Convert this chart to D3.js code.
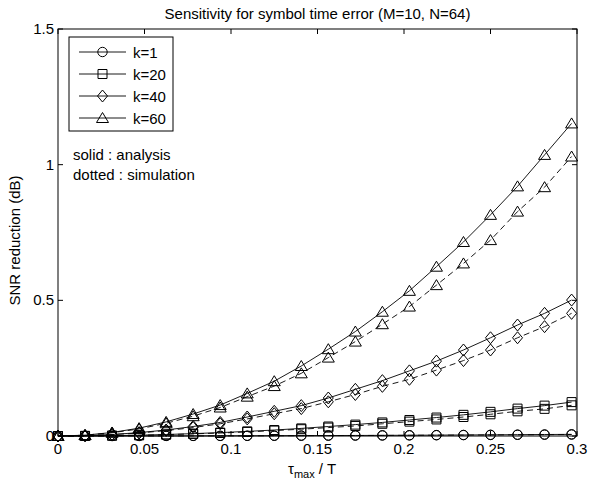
<!DOCTYPE html>
<html>
<head>
<meta charset="utf-8">
<script src="https://cdn.jsdelivr.net/npm/d3@7"></script>
<style>
  body { margin: 0; background: #fff; }
  text { font-family: "Liberation Sans", Arial, Helvetica, sans-serif; fill: #000; }
</style>
</head>
<body>
<script>
// tau_max / T sample points (i/64)
var tau = [0, 0.015625, 0.03125, 0.046875, 0.0625, 0.078125, 0.09375, 0.109375, 0.125, 0.140625,
           0.15625, 0.171875, 0.1875, 0.203125, 0.21875, 0.234375, 0.25, 0.265625, 0.28125, 0.296875];

// SNR reduction (dB), analysis = solid, simulation = dashed
var k1_analysis  = [0, 0, 0.0001, 0.0002, 0.0003, 0.0004, 0.0006, 0.0008, 0.0011, 0.0014,
                    0.0017, 0.002, 0.0024, 0.0028, 0.0033, 0.0038, 0.0043, 0.0049, 0.0055, 0.0061];
var k1_sim       = [0, 0, 0.0001, 0.0002, 0.0003, 0.0004, 0.0005, 0.0007, 0.001, 0.0012,
                    0.0015, 0.0018, 0.0021, 0.0025, 0.003, 0.0034, 0.0039, 0.0044, 0.0049, 0.0055];
var k20_analysis = [0, 0.0003, 0.0014, 0.003, 0.0055, 0.0087, 0.0125, 0.017, 0.022, 0.028,
                    0.035, 0.042, 0.05, 0.059, 0.068, 0.078, 0.089, 0.101, 0.112, 0.125];
var k20_sim      = [0, 0.0003, 0.0012, 0.0027, 0.005, 0.0078, 0.011, 0.015, 0.02, 0.025,
                    0.031, 0.037, 0.045, 0.053, 0.061, 0.07, 0.08, 0.091, 0.1, 0.113];
var k40_analysis = [0, 0.0014, 0.0055, 0.0125, 0.022, 0.035, 0.05, 0.07, 0.091, 0.112,
                    0.14, 0.172, 0.204, 0.24, 0.276, 0.317, 0.362, 0.409, 0.452, 0.501];
var k40_sim      = [0, 0.0012, 0.005, 0.011, 0.02, 0.031, 0.045, 0.063, 0.082, 0.101,
                    0.126, 0.153, 0.183, 0.209, 0.243, 0.278, 0.317, 0.362, 0.403, 0.452];
var k60_analysis = [0, 0.003, 0.013, 0.029, 0.052, 0.081, 0.114, 0.157, 0.202, 0.258,
                    0.32, 0.385, 0.458, 0.535, 0.624, 0.715, 0.815, 0.92, 1.036, 1.152];
var k60_sim      = [0, 0.003, 0.012, 0.026, 0.047, 0.073, 0.105, 0.145, 0.184, 0.231,
                    0.289, 0.348, 0.412, 0.477, 0.556, 0.636, 0.722, 0.827, 0.917, 1.03];

var x_ticks = [0, 0.05, 0.1, 0.15, 0.2, 0.25, 0.3];
var y_ticks = [0, 0.5, 1, 1.5];
var legend_labels = ["k=1", "k=20", "k=40", "k=60"];

var series = [
    {values: k1_analysis,  marker: "circle",   dashed: false},
    {values: k1_sim,       marker: "circle",   dashed: true},
    {values: k20_analysis, marker: "square",   dashed: false},
    {values: k20_sim,      marker: "square",   dashed: true},
    {values: k40_analysis, marker: "diamond",  dashed: false},
    {values: k40_sim,      marker: "diamond",  dashed: true},
    {values: k60_analysis, marker: "triangle", dashed: false},
    {values: k60_sim,      marker: "triangle", dashed: true}
];
var legend_markers = ["circle", "square", "diamond", "triangle"];

var width = 589, height = 487;
var margin = {top: 29, right: 12, bottom: 51, left: 58};

var svg = d3.select("body").append("svg")
    .attr("width", width)
    .attr("height", height);

var x = d3.scaleLinear().domain([0, 0.3]).range([margin.left, width - margin.right]);
var y = d3.scaleLinear().domain([0, 1.5]).range([height - margin.bottom, margin.top]);

// marker shapes, MATLAB style (unfilled)
function marker_path(type) {
    if (type == "circle") return "M-4.7,0A4.7,4.7 0 1,0 4.7,0A4.7,4.7 0 1,0 -4.7,0Z";
    if (type == "square") return "M-4.5,-4.5H4.5V4.5H-4.5Z";
    if (type == "diamond") return "M0,-6L5,0L0,6L-5,0Z";
    return "M0,-5.5L6,4.5L-6,4.5Z";
}

var font_size = 15;

// lines
var line = d3.line()
    .x(function(d, i) { return x(tau[i]); })
    .y(function(d) { return y(d); });

var plot = svg.append("g");
series.forEach(function(s) {
    plot.append("path")
        .datum(s.values)
        .attr("d", line)
        .attr("fill", "none")
        .attr("stroke", "#000")
        .attr("stroke-width", 0.9)
        .attr("stroke-dasharray", s.dashed ? "6,4" : null);
    plot.selectAll(null)
        .data(s.values)
        .enter().append("path")
        .attr("d", marker_path(s.marker))
        .attr("transform", function(d, i) { return "translate(" + x(tau[i]) + "," + y(d) + ")"; })
        .attr("fill", "none")
        .attr("stroke", "#000")
        .attr("stroke-width", 1);
});

// axes box + inward ticks on all sides
var axes = svg.append("g");
axes.append("rect")
    .attr("x", x(0)).attr("y", y(1.5))
    .attr("width", x(0.3) - x(0)).attr("height", y(0) - y(1.5))
    .attr("fill", "none").attr("stroke", "#000").attr("stroke-width", 1);

var tick_len = 5;
x_ticks.forEach(function(t) {
    axes.append("line").attr("x1", x(t)).attr("x2", x(t)).attr("y1", y(0)).attr("y2", y(0) - tick_len).attr("stroke", "#000");
    axes.append("line").attr("x1", x(t)).attr("x2", x(t)).attr("y1", y(1.5)).attr("y2", y(1.5) + tick_len).attr("stroke", "#000");
    axes.append("text")
        .attr("x", x(t)).attr("y", y(0) + 18)
        .attr("text-anchor", "middle")
        .attr("font-size", font_size)
        .text(t);
});
y_ticks.forEach(function(t) {
    axes.append("line").attr("x1", x(0)).attr("x2", x(0) + tick_len).attr("y1", y(t)).attr("y2", y(t)).attr("stroke", "#000");
    axes.append("line").attr("x1", x(0.3)).attr("x2", x(0.3) - tick_len).attr("y1", y(t)).attr("y2", y(t)).attr("stroke", "#000");
    axes.append("text")
        .attr("x", x(0) - 4).attr("y", y(t) + 5)
        .attr("text-anchor", "end")
        .attr("font-size", font_size)
        .text(t);
});

// title and axis labels
svg.append("text")
    .attr("x", (x(0) + x(0.3)) / 2).attr("y", 19)
    .attr("text-anchor", "middle")
    .attr("font-size", font_size)
    .text("Sensitivity for symbol time error (M=10, N=64)");

var xl = svg.append("text")
    .attr("x", 312).attr("y", 474)
    .attr("text-anchor", "middle")
    .attr("font-size", font_size);
xl.append("tspan").text("\u03C4");
xl.append("tspan").attr("font-size", 11).attr("dy", 4).text("max");
xl.append("tspan").attr("dy", -4).text(" / T");

svg.append("text")
    .attr("transform", "translate(20," + ((y(0) + y(1.5)) / 2 + 8) + ") rotate(-90)")
    .attr("text-anchor", "middle")
    .attr("font-size", font_size)
    .text("SNR reduction (dB)");

// legend
var legend = svg.append("g");
legend.append("rect")
    .attr("x", 69).attr("y", 37).attr("width", 104).attr("height", 94)
    .attr("fill", "#fff").attr("stroke", "#000").attr("stroke-width", 1);
legend_labels.forEach(function(lab, i) {
    var ly = 52 + i * 22;
    legend.append("line").attr("x1", 79).attr("x2", 126).attr("y1", ly).attr("y2", ly)
        .attr("stroke", "#000").attr("stroke-width", 0.9);
    legend.append("path").attr("d", marker_path(legend_markers[i]))
        .attr("transform", "translate(102.5," + ly + ")")
        .attr("fill", "none").attr("stroke", "#000");
    legend.append("text").attr("x", 133).attr("y", ly + 5.5)
        .attr("font-size", font_size).text(lab);
});

// annotation
svg.append("text").attr("x", 73).attr("y", 160).attr("font-size", font_size).text("solid : analysis");
svg.append("text").attr("x", 73).attr("y", 180).attr("font-size", font_size).text("dotted : simulation");
</script>
</body>
</html>
